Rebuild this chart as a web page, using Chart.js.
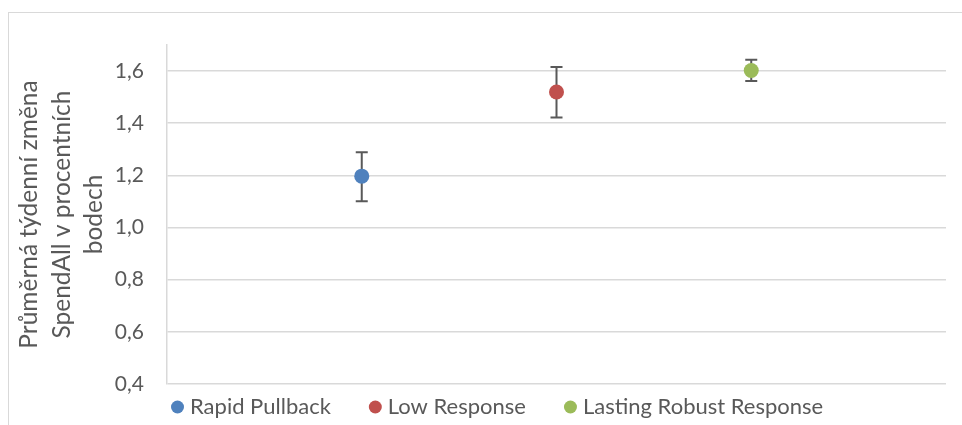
<!DOCTYPE html>
<html>
<head>
<meta charset="utf-8">
<script src="https://cdn.jsdelivr.net/npm/chart.js@4"></script>
<style>
  html, body { margin: 0; padding: 0; background: #fff; }
  #wrap { position: relative; width: 962px; height: 425px; overflow: hidden; }
  #frame { position: absolute; left: 8px; top: 12px; width: 1000px; height: 500px; border: 1px solid #d9d9d9; box-sizing: border-box; }
  canvas { position: absolute; left: 0; top: 0; }
</style>
</head>
<body>
<div id="wrap">
  <div id="frame"></div>
  <canvas id="c" width="962" height="425"></canvas>
</div>
<script>
// ---- data ----
const categories = ["Rapid Pullback", "Low Response", "Lasting Robust Response"];
const positions = [1, 2, 3];
const means = [1.197, 1.520, 1.602];
const errLow = [1.101, 1.422, 1.562];
const errHigh = [1.289, 1.616, 1.643];
const colors = ["#4F81BD", "#C0504D", "#9BBB59"];
const yTicks = [0.4, 0.6, 0.8, 1.0, 1.2, 1.4, 1.6];
const yTitle = ["Průměrná týdenní změna", "SpendAll v procentních", "bodech"];

const FONT = "Lato, 'Open Sans', sans-serif";
const TXT = "#595959";

const datasets = categories.map((c, i) => ({
  label: c,
  data: [{ x: positions[i], y: means[i] }],
  backgroundColor: colors[i],
  borderColor: colors[i],
  pointRadius: 7.5,
  pointHoverRadius: 7.5,
  borderWidth: 0
}));

const errorBars = {
  id: 'errorBars',
  beforeDatasetsDraw(chart) {
    const { ctx, scales: { x, y } } = chart;
    ctx.save();
    ctx.strokeStyle = "#595959";
    ctx.lineWidth = 2;
    const cap = 6;
    positions.forEach((p, i) => {
      const px = x.getPixelForValue(p);
      const y1 = y.getPixelForValue(errLow[i]);
      const y2 = y.getPixelForValue(errHigh[i]);
      ctx.beginPath();
      ctx.moveTo(px, y1); ctx.lineTo(px, y2);
      ctx.moveTo(px - cap, y1); ctx.lineTo(px + cap, y1);
      ctx.moveTo(px - cap, y2); ctx.lineTo(px + cap, y2);
      ctx.stroke();
    });
    ctx.restore();
  }
};

const customLegend = {
  id: 'customLegend',
  afterDraw(chart) {
    const { ctx, chartArea } = chart;
    ctx.save();
    ctx.font = "22px " + FONT;
    ctx.textBaseline = "middle";
    ctx.textAlign = "left";
    let xpos = chartArea.left + 4;
    const yc = 407;
    categories.forEach((c, i) => {
      ctx.fillStyle = colors[i];
      ctx.beginPath();
      ctx.arc(xpos + 6.5, yc, 6.5, 0, Math.PI * 2);
      ctx.fill();
      ctx.fillStyle = TXT;
      const tx = xpos + 19;
      ctx.fillText(c, tx, yc);
      xpos = tx + ctx.measureText(c).width + 38;
    });
    ctx.restore();
  }
};

new Chart(document.getElementById('c'), {
  type: 'scatter',
  data: { datasets },
  options: {
    responsive: false,
    animation: false,
    devicePixelRatio: 1,
    layout: { padding: { left: 0, right: 16, top: 45, bottom: 41 } },
    plugins: { legend: { display: false }, tooltip: { enabled: false } },
    scales: {
      x: { type: 'linear', min: 0, max: 4, display: false },
      y: {
        type: 'linear', min: 0.4, max: 1.7,
        afterBuildTicks: s => { s.ticks = yTicks.map(v => ({ value: v })); },
        afterFit: s => { s.width = 167; },
        grid: { color: "#d9d9d9", lineWidth: 1.5, drawTicks: false },
        border: { color: "#d9d9d9", width: 1.5 },
        ticks: {
          padding: 23, color: TXT, font: { family: FONT, size: 21 },
          callback: v => v.toFixed(1).replace('.', ',')
        },
        title: {
          display: true, text: yTitle, color: TXT,
          font: { family: FONT, size: 24.5, lineHeight: 1.33 },
          padding: { top: 13, bottom: 0 }
        }
      }
    }
  },
  plugins: [errorBars, customLegend]
});
</script>
</body>
</html>
